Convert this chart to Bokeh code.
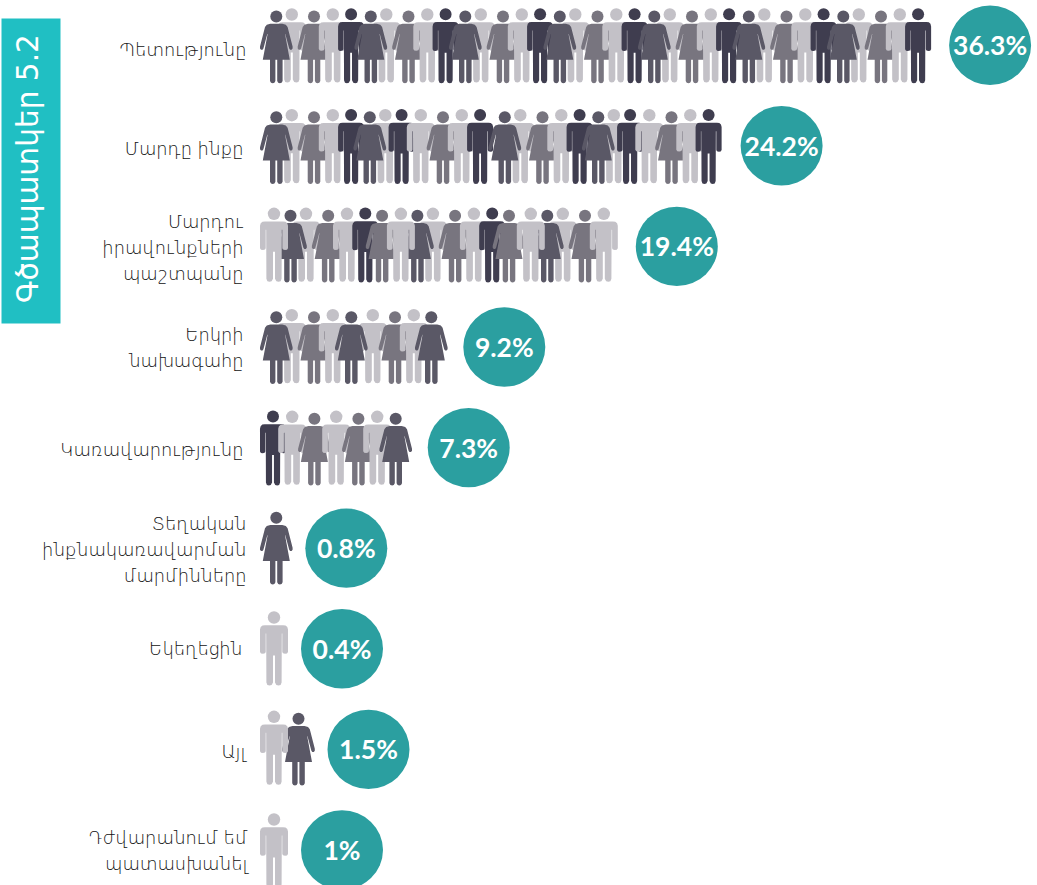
from bokeh.plotting import figure
from bokeh.embed import file_html
from bokeh.resources import INLINE
from bokeh.core.properties import value
from bokeh.models import ColumnDataSource
import math

# ---- data ----
title = "Գծապատկեր 5.2"
categories = [
    ["Պետությունը"],
    ["Մարդը ինքը"],
    ["Մարդու", "իրավունքների", "պաշտպանը"],
    ["Երկրի", "նախագահը"],
    ["Կառավարությունը"],
    ["Տեղական", "ինքնակառավարման", "մարմինները"],
    ["Եկեղեցին"],
    ["Այլ"],
    ["Դժվարանում եմ", "պատասխանել"],
]
percent = [36.3, 24.2, 19.4, 9.2, 7.3, 0.8, 0.4, 1.5, 1]
# W dark woman, w mid woman, m light man, D dark man
people = [
    "WmwmD" * 7,
    "WmwmDWmDmwmD" * 2,
    "mWmwmDwmWmwmDwmWmwm",
    "WmwmWmwmW",
    "DmwmwmW",
    "W",
    "m",
    "mW",
    "m",
]

# ---- layout and style ----
W, H = 1037, 885
COL = {"W": "#5a5866", "w": "#78757f", "m": "#c3c1c7", "D": "#3f3d4f"}
BAND = "#20bfc3"
TEAL = "#2b9fa0"
INK = "#111111"
ROW0, ROW_STEP = 44.7, 100.6
LEFT = 259.5
HALF = {"W": 16.3, "w": 16.3, "m": 14.0, "D": 13.0}
HEAD_DY = {"W": -29.5, "w": -29.5, "m": -31.5, "D": -31.8}
ROW_DY = [0.8, 0.9, -1.1, -0.3, 0.7, -0.9, 0.2, -1.1, 1.0]
HEAD_R = {"W": 6.0, "w": 6.0, "m": 6.2, "D": 6.0}
STEP = {"Wm": 15.5, "mw": 22.2, "wm": 18.8, "mD": 18.3, "DW": 18.7,
        "mW": 16.5, "Dw": 16.8, "Dm": 19.2}
NUDGE = [{5: 1, 10: 1, 15: 1, 20: 1, 25: 1, 30: 1}, {7: -2, 12: 6, 19: -2}, {14: 3},
         {4: 2, 5: 6, 8: 1}, {3: 3, 6: 2}, {}, {}, {1: 8}, {}]
MAN_FRONT_ROWS = {2, 7}
BUBBLE_GAP = [72, 73, 73, 73, 73, 70, 68, 70, 68]
BUBBLE_RX, BUBBLE_RY = 41, 39.7
LABEL_RIGHT = [246, 243, 243, 243, 243, 246, 242, 245, 247]
LABEL_DY = [4.5, 2.5, 1, 0, 2, 1, 0, 2, 0]
LINE_H = 26

half_woman = [(0, 7.3), (6, 7.3), (9.5, 8.3), (11.3, 10.5), (16.3, 30), (16.3, 32), (15.3, 33.3),
              (13.8, 33.3), (12.9, 32), (9, 17.5), (8.7, 17.5), (13.5, 43.3), (6.3, 43.3), (6.3, 64.5),
              (5.3, 66.2), (3.5, 66.7), (1.9, 66.2), (0.9, 64.5), (0.9, 43.3), (0, 43.3)]
half_man = [(0, 7.7), (9, 7.7), (11.5, 8), (13.3, 9.5), (14, 12), (14, 34.5), (13, 36), (11, 36.3),
            (9, 35.8), (8.3, 34.5), (8.3, 16), (7.8, 16), (7.6, 65), (6.6, 67.5), (4.5, 68), (2.4, 67.5),
            (1, 65), (1, 38), (0, 38)]


def outline(half, sx=1.0, sy=1.0):
    pts = half + [(-x, y) for x, y in reversed(half[1:-1])]
    return [x * sx for x, y in pts], [y * sy for x, y in pts]


SHAPE = {"W": outline(half_woman), "w": outline(half_woman),
         "m": outline(half_man), "D": outline(half_man, 0.93, 1.015)}


def paint_order(seq, man_front):
    order, i = [], 0
    n = len(seq)
    while i < n:
        if seq[i] == "m" and i + 2 < n and seq[i + 1] == "W" and seq[i + 2] == "m":
            run = [i + 2, i + 1, i] if man_front else [i + 2, i, i + 1]
        elif seq[i] == "m" and i + 1 < n and seq[i + 1] == "W":
            run = [i + 1, i] if man_front else [i, i + 1]
        elif seq[i] == "W" and i + 1 < n and seq[i + 1] == "m":
            run = [i + 1, i]
        else:
            run = [i]
        order += run
        i += len(run)
    return order


p = figure(width=W, height=H, x_range=(0, W), y_range=(H, 0), output_backend="svg",
           toolbar_location=None, min_border=0, outline_line_color=None,
           styles={"position": "absolute", "left": "0px", "top": "0px"})
p.axis.visible = False
p.grid.visible = False

# title band
p.quad(left=[1], right=[60], top=[18], bottom=[323], fill_color=BAND, line_color=None)
p.text(x=[27], y=[168], text=[title], angle=math.pi / 2, text_color="white",
       text_font=value("DejaVu Sans"), text_font_size="29.6px",
       text_align="center", text_baseline="middle")

xs, ys, cols, hx, hy, hr, hc = [], [], [], [], [], [], []
bx, by = [], []
for r, seq in enumerate(people):
    row_y = ROW0 + r * ROW_STEP
    pos = [LEFT + HALF[seq[0]]]
    for i in range(1, len(seq)):
        pos.append(pos[-1] + STEP[seq[i - 1] + seq[i]] + NUDGE[r].get(i, 0))
    for i in paint_order(seq, r in MAN_FRONT_ROWS):
        t = seq[i]
        head_y = row_y + HEAD_DY[t] + ROW_DY[r]
        sx, sy = SHAPE[t]
        xs.append([pos[i] + v for v in sx])
        ys.append([head_y + v for v in sy])
        cols.append(COL[t])
        hx.append(pos[i]); hy.append(head_y); hr.append(HEAD_R[t] * 2); hc.append(COL[t])
    bx.append(pos[-1] + BUBBLE_GAP[r])
    by.append(row_y)

p.patches("x", "y", source=ColumnDataSource(dict(x=xs, y=ys, c=cols)), fill_color="c", line_color=None)
p.ellipse("x", "y", width="d", height="d", source=ColumnDataSource(dict(x=hx, y=hy, d=hr, c=hc)),
          fill_color="c", line_color=None)

p.ellipse(bx, by, width=BUBBLE_RX * 2, height=BUBBLE_RY * 2, fill_color=TEAL, line_color=None)
p.text(x=bx, y=by, text=[f"{v}%" for v in percent], text_color="white", text_font=value("Lato"),
       text_font_size="26.5px", text_font_style="bold", text_align="center", text_baseline="middle")

for r, lines in enumerate(categories):
    cy = ROW0 + r * ROW_STEP + LABEL_DY[r]
    n = len(lines)
    p.text(x=[LABEL_RIGHT[r]] * n, y=[cy + (j - (n - 1) / 2) * LINE_H for j in range(n)], text=lines,
           text_color=INK, text_font=value("DejaVu Sans Light, DejaVu Sans"), text_font_size="17.8px",
           text_align="right", text_baseline="middle")

open("out.html", "w").write(file_html(p, INLINE))
